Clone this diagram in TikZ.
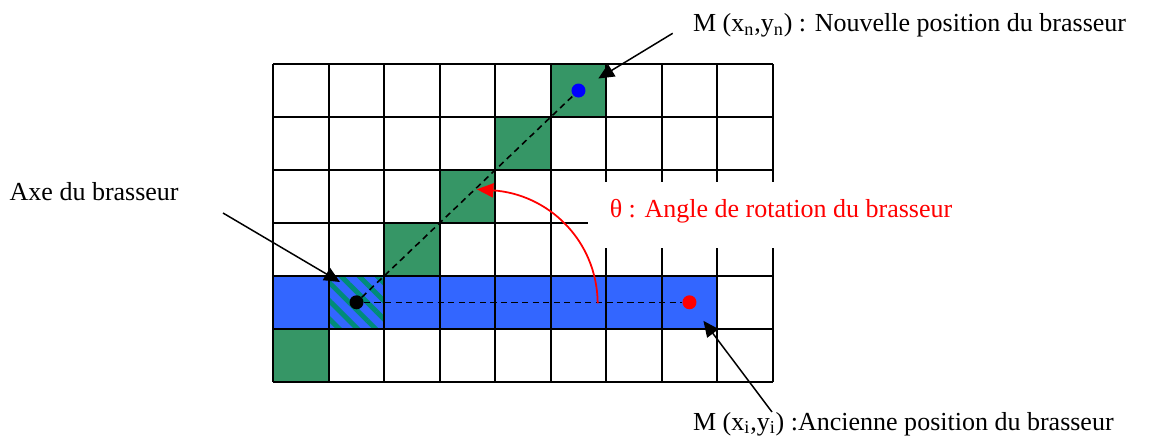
\documentclass[tikz,border=0pt]{standalone}
\usepackage{fontspec}
\setmainfont{Liberation Serif}
\usetikzlibrary{arrows.meta,patterns.meta}
\definecolor{cellgreen}{RGB}{54,150,102}
\definecolor{cellblue}{RGB}{51,102,255}
\definecolor{stripe}{RGB}{0,140,120}
\tikzset{
  gridline/.style={line width=1.1pt},
  dot/.style={circle,inner sep=0pt,minimum size=0.28cm},
  dashline/.style={dash pattern=on 3.5pt off 2.5pt,line width=0.9pt},
  pointer/.style={line width=0.85pt,-{Triangle[length=9pt,width=8pt]}},
  lbl/.style={inner sep=0pt,font=\fontsize{14.8}{17}\selectfont}
}

\begin{document}
\begin{tikzpicture}[x=0.02cm,y=-0.02cm]
  \useasboundingbox (0,0) rectangle (1149,443);
  % grille
  \begin{scope}[shift={(273.3,381.7)},x=1.11cm,y=1.059cm]
    \fill[cellblue] (0,1) rectangle (8,2);
    \foreach \c/\r in {0/0,2/2,3/3,4/4,5/5}
      \fill[cellgreen] (\c,\r) rectangle ++(1,1);
    \fill[pattern={Lines[angle=-45,distance=7.3pt,line width=2.8pt]},pattern color=stripe]
      (1,1) rectangle (2,2);
    \foreach \i in {0,...,9}
      \draw[gridline] (\i,0) -- (\i,6);
    \foreach \j in {0,...,6}
      \draw[gridline] (0,\j) -- (9,\j);
    \coordinate (axec) at (1.5,1.5);
    \coordinate (newc) at (5.5,5.5);
    \coordinate (oldc) at (7.5,1.5);
  \end{scope}

  \node[lbl,fill=white,text=red,inner xsep=0.44cm,minimum height=1.32cm,
        text height=8pt,text depth=4.6pt] (anglelbl)
    at (781,215) {θ : Angle de rotation du brasseur};

  \node[dot,fill=black] (axe) at (axec) {};
  \node[dot,fill=blue] (newpos) at (newc) {};
  \node[dot,fill=red] (oldpos) at (oldc) {};
  \draw[dashline] (axe) -- (newpos);
  \draw[dashline] (axe) -- (oldpos);

  % angle
  \coordinate (arcfrom) at (597.7,303.3);
  \coordinate (arcto) at (476.7,189.3);
  \draw[red,line width=1pt,-{Triangle[length=9.5pt,width=8pt]}]
    (arcfrom) .. controls (597,240) and (548,194) .. (arcto);

  % etiquettes
  \node[lbl,anchor=base west] (newlbl) at (692.7,31.7)
    {M (x\textsubscript{n},y\textsubscript{n}) : Nouvelle position du brasseur};
  \node[lbl,anchor=base west] (oldlbl) at (692.7,430)
    {M (x\textsubscript{i},y\textsubscript{i}) :Ancienne position du brasseur};
  \node[lbl,anchor=base east] (axelbl) at (179,200) {Axe du brasseur};

  \coordinate (newfrom) at (672.7,33.3);
  \coordinate (oldfrom) at (772,412);
  \coordinate (axefrom) at (223,213);
  \coordinate (axeto) at (340,282);
  \draw[pointer,shorten >=9pt] (newfrom) -- (newpos);
  \draw[pointer,shorten >=9pt] (oldfrom) -- (oldpos);
  \draw[pointer] (axefrom) -- (axeto);
\end{tikzpicture}
\end{document}
